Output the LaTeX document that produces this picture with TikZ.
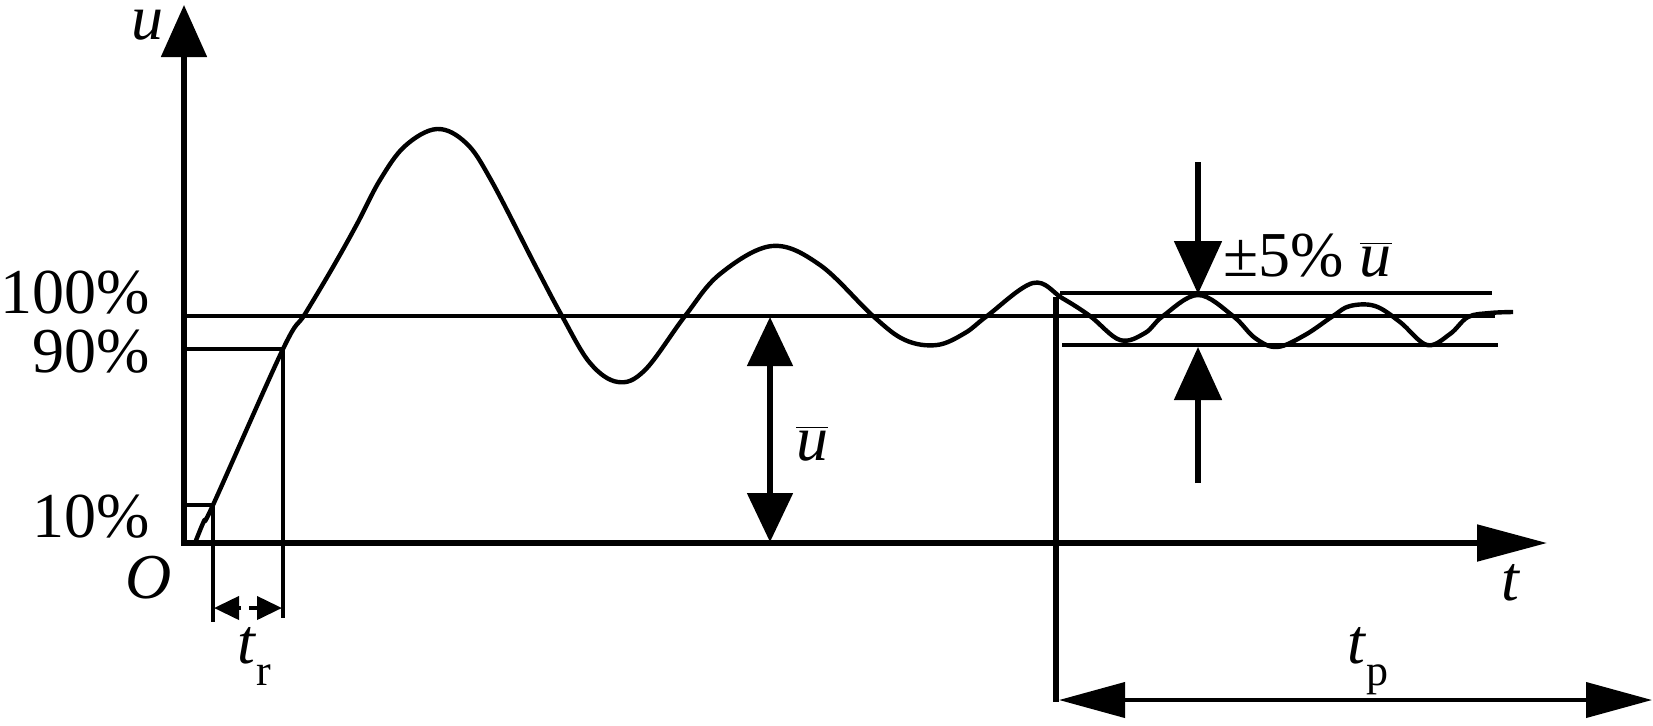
\documentclass[tikz,border=0pt]{standalone}
\usepackage{fontspec}
\setmainfont{Liberation Serif}
\usetikzlibrary{arrows.meta}
\newcommand{\ubar}{$\overline{\hbox{\itshape u}}$}
\newcommand{\subtxt}[1]{\raisebox{-11pt}{\fontsize{22}{26}\selectfont #1}}

\begin{document}
\begin{tikzpicture}[x=0.5pt, y=-0.5pt,
        axis/.style = {line width=2.6pt},
        level/.style = {line width=2pt},
        curve/.style = {line width=2.2pt, line join=round},
        lbl/.style = {inner sep=0pt, font=\fontsize{32}{38}\selectfont}]
    \useasboundingbox (0,0) rectangle (1653,725);
    % labels
    \node[lbl, anchor=base east] (p100) at (150,313) {100\%};
    \node[lbl, anchor=base east] (p90)  at (150,372) {90\%};
    \node[lbl, anchor=base east] (p10)  at (150,537) {10\%};
    \node[lbl, anchor=base east] (O)    at (172,598) {\textit{O}};
    \node[lbl, anchor=base east] (ulbl) at (164,39)  {\textit{u}};
    \node[lbl, anchor=base]      (tlbl) at (1511,600) {\textit{t}};
    \node[lbl, anchor=base west] (tr)   at (237,663) {\textit{t}\subtxt{r}};
    \node[lbl, anchor=base west] (tp)   at (1347,663) {\textit{t}\subtxt{p}};
    \node[lbl, anchor=base west] (ub)   at (796,460) {\ubar};
    \node[lbl, anchor=base west] (band) at (1223,276) {±5\% \ubar};
    % points
    \coordinate (o)     at (184,543);
    \coordinate (ytip)  at (184,5);
    \coordinate (xtip)  at (1547,543);
    \coordinate (h100a) at (184,316);
    \coordinate (h100b) at (1495,316);
    \coordinate (h90a)  at (184,349);
    \coordinate (h90b)  at (283,349);
    \coordinate (v90)   at (283,618);
    \coordinate (h10a)  at (184,505);
    \coordinate (h10b)  at (213,505);
    \coordinate (v10)   at (213,622);
    \coordinate (tra)   at (241,608);
    \coordinate (trb)   at (214,608);
    \coordinate (trc)   at (249,608);
    \coordinate (trd)   at (282,608);
    \coordinate (hia)   at (1060,293);
    \coordinate (hib)   at (1492,293);
    \coordinate (loa)   at (1062,345);
    \coordinate (lob)   at (1498,345);
    \coordinate (vs)    at (1056,297);
    \coordinate (vsb)   at (1056,702);
    \coordinate (tpa)   at (1059,700);
    \coordinate (tpb)   at (1652,700);
    \coordinate (uba)   at (770,317);
    \coordinate (ubb)   at (770,542);
    \coordinate (dna)   at (1198,162);
    \coordinate (dnb)   at (1198,294);
    \coordinate (upa)   at (1198,483);
    \coordinate (upb)   at (1198,347);
    % axes
    \draw[axis, {Triangle[length=26pt,width=22.5pt]}-{Triangle[length=35pt,width=18pt]}]
        (ytip) -- (o) -- (xtip);
    % levels
    \draw[level] (h100a) -- (h100b);
    \draw[level] (h90a) -- (h90b) -- (v90);
    \draw[level] (h10a) -- (h10b) -- (v10);
    \draw[level] (hia) -- (hib);
    \draw[level] (loa) -- (lob);
    \draw[axis] (vs) -- (vsb);
    % dimension arrows
    \draw[level, -{Triangle[length=12.5pt,width=11.5pt]}] (tra) -- (trb);
    \draw[level, -{Triangle[length=12.5pt,width=11.5pt]}] (trc) -- (trd);
    \draw[level, {Triangle[length=33pt,width=17.5pt]}-{Triangle[length=33pt,width=17.5pt]}] (tpa) -- (tpb);
    \draw[axis, {Triangle[length=24.5pt,width=22.5pt]}-{Triangle[length=24.5pt,width=22.5pt]}] (uba) -- (ubb);
    \draw[axis, -{Triangle[length=26.5pt,width=23.5pt]}] (dna) -- (dnb);
    \draw[axis, -{Triangle[length=26.5pt,width=23.5pt]}] (upa) -- (upb);
    % response
    \draw[curve] plot[smooth, tension=0.6] coordinates {
        (195,543) (204,521) (213,505) (283,349) (305,314) (333,267)
        (357,224) (380,180) (405,146) (437,129) (466,143)
        (491,180) (536,267) (562,316) (590,363) (618,382)
        (645,370) (685,316) (720,274) (772,246) (820,265)
        (873,316) (905,340) (937,345) (965,333) (987,316)
        (1033,283) (1062,298) (1090,316) (1120,340) (1145,333) (1163,316)
        (1198,295) (1233,316) (1255,338) (1277,347) (1305,335) (1333,316)
        (1350,306) (1375,306) (1400,322) (1427,345) (1450,334) (1468,317)
        (1490,313) (1513,312)};
\end{tikzpicture}
\end{document}
